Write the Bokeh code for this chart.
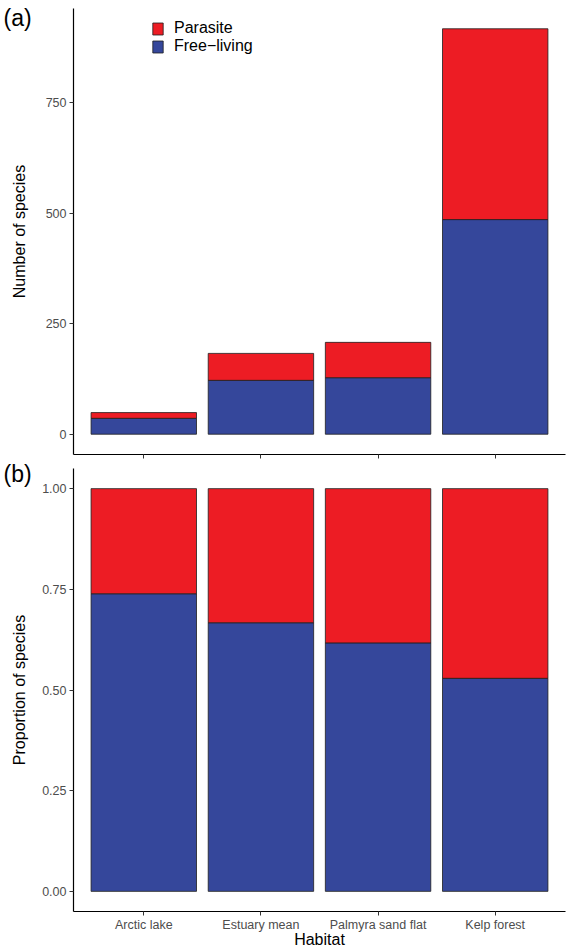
from bokeh.plotting import figure
from bokeh.layouts import column
from bokeh.models import (Range1d, FactorRange, FixedTicker, Legend, LegendItem,
                          PrintfTickFormatter, ColumnDataSource)
from bokeh.embed import file_html
from bokeh.resources import INLINE

# ---- data ----
habitats = ["Arctic lake", "Estuary mean", "Palmyra sand flat", "Kelp forest"]
free_living_counts = [36, 122, 128, 486]
parasite_counts = [13, 61, 80, 432]
free_living_prop = [0.739, 0.667, 0.617, 0.529]
parasite_prop = [0.261, 0.333, 0.383, 0.471]
count_ticks = [0, 250, 500, 750]
prop_ticks = [0.0, 0.25, 0.5, 0.75, 1.0]
series_labels = ["Parasite", "Free\u2212living"]
panel_tags = ["(a)", "(b)"]

RED = "#ED1C24"
BLUE = "#35479B"
EDGE = "#1e1e1e"
FONT = "Liberation Sans"


def style(p):
    p.toolbar_location = None
    p.outline_line_color = None
    p.xgrid.grid_line_color = None
    p.ygrid.grid_line_color = None
    for ax in (p.xaxis[0], p.yaxis[0]):
        ax.axis_line_color = "black"
        ax.axis_line_width = 1.2
        ax.major_tick_line_color = "#333333"
        ax.major_tick_line_width = 1
        ax.major_tick_in = 0
        ax.major_tick_out = 4
        ax.minor_tick_line_color = None
        ax.major_label_text_font = FONT
        ax.major_label_text_font_size = "12.5px"
        ax.major_label_text_color = "#4D4D4D"
        ax.axis_label_text_font = FONT
        ax.axis_label_text_font_size = "16px"
        ax.axis_label_text_font_style = "normal"
        ax.axis_label_text_color = "black"
    p.yaxis.major_label_standoff = 3


def tag(p, text, standoff):
    t = p.title
    t.text = text
    t.align = "left"
    t.vertical_align = "bottom"
    t.offset = -70
    t.standoff = standoff
    t.text_font = FONT
    t.text_font_size = "23px"
    t.text_font_style = "normal"
    t.text_color = "black"


def x_range():
    return FactorRange(*habitats, range_padding=0.1, range_padding_units="absolute")


# ---- panel (a): counts ----
src_a = ColumnDataSource(dict(habitat=habitats, free=free_living_counts,
                              parasite=parasite_counts))
max_total = max(f + q for f, q in zip(free_living_counts, parasite_counts))
pa = figure(width=572, height=459, x_range=x_range(),
            y_range=Range1d(-0.05 * max_total, 1.05 * max_total),
            output_backend="svg", toolbar_location=None,
            min_border_left=73, min_border_right=4,
            min_border_top=8, min_border_bottom=5)
ra = pa.vbar_stack(["free", "parasite"], x="habitat", width=0.9, source=src_a,
                   fill_color=[BLUE, RED], line_color=EDGE, line_width=0.8)
style(pa)
pa.yaxis.ticker = FixedTicker(ticks=count_ticks)
pa.yaxis.axis_label = "Number of species"
pa.yaxis.axis_label_standoff = 15
pa.xaxis.major_label_text_color = None
tag(pa, panel_tags[0], -44)

legend = Legend(items=[LegendItem(label=series_labels[0], renderers=[ra[1]]),
                       LegendItem(label=series_labels[1], renderers=[ra[0]])],
                location=(78, 399), orientation="vertical",
                glyph_width=13, glyph_height=15, label_height=15,
                label_standoff=10, spacing=0, padding=0, margin=0,
                label_text_font=FONT, label_text_font_size="16px",
                label_text_color="black",
                border_line_color=None, background_fill_alpha=0)
pa.add_layout(legend, "center")

# ---- panel (b): proportions ----
src_b = ColumnDataSource(dict(habitat=habitats, free=free_living_prop,
                              parasite=parasite_prop))
pb = figure(width=572, height=491, x_range=x_range(),
            y_range=Range1d(-0.05, 1.05),
            output_backend="svg", toolbar_location=None,
            min_border_left=73, min_border_right=7,
            min_border_top=9, min_border_bottom=38)
pb.vbar_stack(["free", "parasite"], x="habitat", width=0.9, source=src_b,
              fill_color=[BLUE, RED], line_color=EDGE, line_width=0.8)
style(pb)
pb.yaxis.ticker = FixedTicker(ticks=prop_ticks)
pb.yaxis.formatter = PrintfTickFormatter(format="%.2f")
pb.yaxis.axis_label = "Proportion of species"
pb.yaxis.axis_label_standoff = 11
pb.xaxis.axis_label = "Habitat"
pb.xaxis.major_label_standoff = 2
pb.xaxis.axis_label_standoff = -4
pb.xaxis.major_label_text_line_height = 1.0
pb.xaxis.axis_label_text_line_height = 1.0
tag(pb, panel_tags[1], -36)

layout = column(pa, pb, spacing=0)
open("out.html", "w").write(file_html(layout, INLINE))
